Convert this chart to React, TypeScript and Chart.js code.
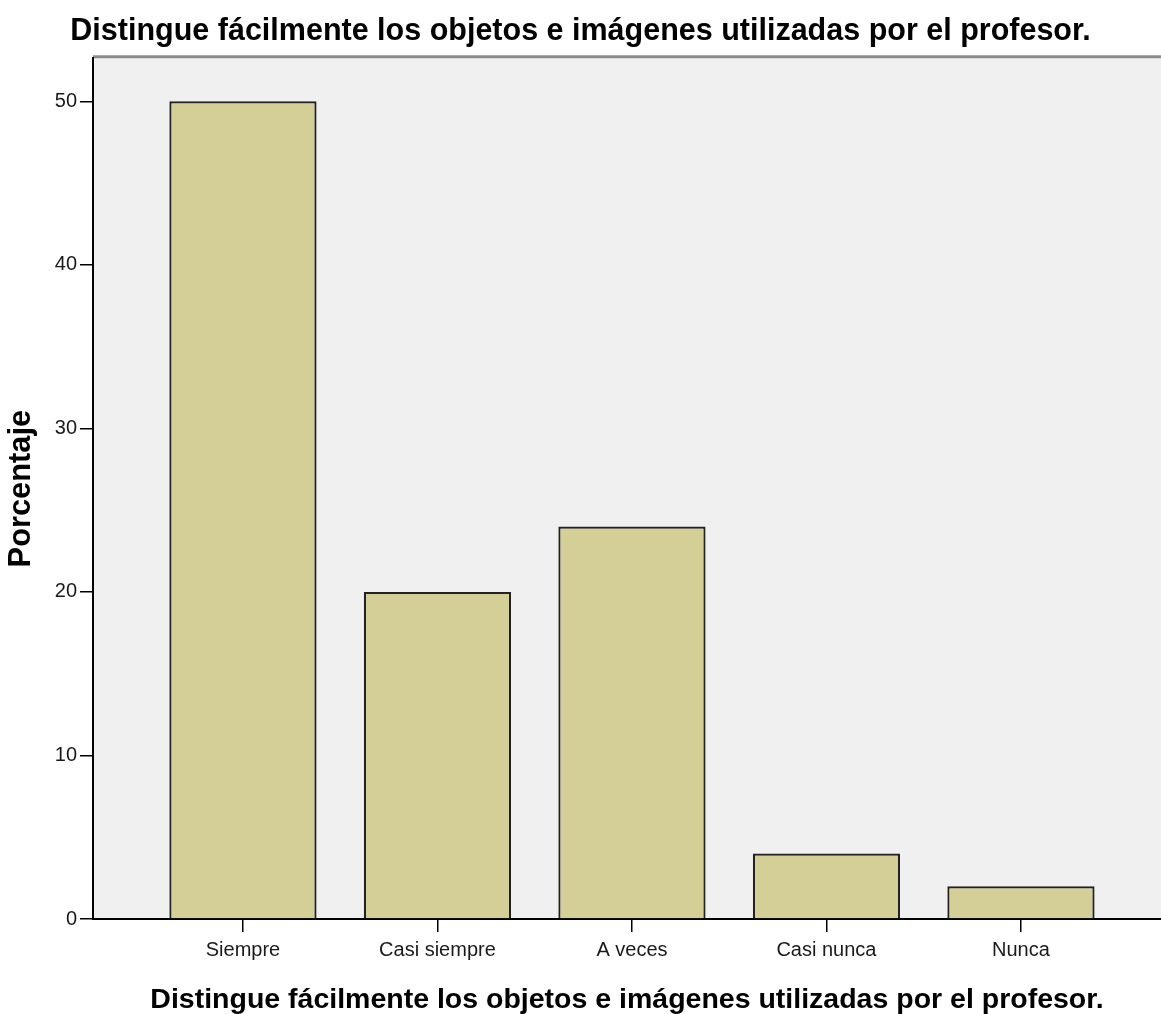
import React, { useEffect, useRef } from 'react';
import { Chart, registerables } from 'chart.js';

Chart.register(...registerables);

const categories = ['Siempre', 'Casi siempre', 'A veces', 'Casi nunca', 'Nunca'];
const percentages = [50, 20, 24, 4, 2];
const yTickValues = [0, 10, 20, 30, 40, 50];
const chartTitle = 'Distingue fácilmente los objetos e imágenes utilizadas por el profesor.';
const xAxisTitle = 'Distingue fácilmente los objetos e imágenes utilizadas por el profesor.';
const yAxisTitle = 'Porcentaje';

const FONT = "'Liberation Sans', Arial, sans-serif";

const plotBackground = {
  id: 'plotBackground',
  beforeDraw(chart: any) {
    const { ctx, chartArea } = chart;
    if (!chartArea) return;
    const { left, top, right, bottom } = chartArea;
    ctx.save();
    ctx.fillStyle = '#f0f0f0';
    ctx.fillRect(left, top, right - left, bottom - top);
    ctx.strokeStyle = '#8c8c8c';
    ctx.lineWidth = 3;
    ctx.beginPath();
    ctx.moveTo(left, top - 1.5);
    ctx.lineTo(right, top - 1.5);
    ctx.stroke();
    ctx.restore();
  },
};

export default function App() {
  const canvasRef = useRef<HTMLCanvasElement | null>(null);

  useEffect(() => {
    if (!canvasRef.current) return;
    const chart = new Chart(canvasRef.current, {
      type: 'bar',
      data: {
        datasets: [
          {
            label: yAxisTitle,
            data: percentages.map((v, i) => ({ x: i, y: v })),
            backgroundColor: '#d3cf97',
            borderColor: '#222222',
            borderWidth: 2.2,
            borderSkipped: 'bottom',
            categoryPercentage: 1,
            barPercentage: 0.757,
          },
        ],
      },
      options: {
        animation: false,
        responsive: false,
        devicePixelRatio: 1,
        layout: { padding: 0 },
        plugins: {
          legend: { display: false },
          tooltip: { enabled: false },
          title: {
            display: true,
            text: chartTitle,
            color: '#000',
            font: { family: FONT, size: 30.5, weight: 'bold', lineHeight: 1.2 },
            padding: { top: 13.5, bottom: 8.2 },
          },
        },
        scales: {
          x: {
            type: 'linear',
            offset: false,
            min: -0.771,
            max: 4.72,
            afterBuildTicks: (scale: any) => {
              scale.ticks = categories.map((_, i) => ({ value: i }));
            },
            afterFit: (scale: any) => {
              scale.height = 95;
            },
            grid: {
              display: true,
              offset: false,
              drawOnChartArea: false,
              drawTicks: true,
              tickLength: 13,
              color: '#000',
              lineWidth: 1.5,
            },
            border: { display: true, color: '#000', width: 2 },
            ticks: {
              callback: (value: any) => categories[value as number] ?? '',
              font: { family: FONT, size: 20 },
              color: '#1a1a1a',
              padding: 6,
              maxRotation: 0,
              autoSkip: false,
            },
            title: {
              display: true,
              text: xAxisTitle,
              color: '#000',
              font: { family: FONT, size: 28.5, weight: 'bold', lineHeight: 1.0 },
              padding: { top: 0, bottom: 0 },
            },
          },
          y: {
            type: 'linear',
            min: 0,
            max: 52.63,
            afterBuildTicks: (scale: any) => {
              scale.ticks = yTickValues.map((v) => ({ value: v }));
            },
            afterFit: (scale: any) => {
              scale.width = 93;
            },
            grid: {
              display: true,
              drawOnChartArea: false,
              drawTicks: true,
              tickLength: 13,
              color: '#000',
              lineWidth: 1.5,
            },
            border: { display: true, color: '#000', width: 2 },
            ticks: {
              font: { family: FONT, size: 20 },
              color: '#1a1a1a',
              padding: 3,
            },
            title: {
              display: true,
              text: yAxisTitle,
              color: '#000',
              font: { family: FONT, size: 30.8, weight: 'bold', lineHeight: 1.2 },
              padding: { top: 3, bottom: 0 },
            },
          },
        },
      },
      plugins: [plotBackground],
    });
    return () => chart.destroy();
  }, []);

  return (
    <div style={{ position: 'absolute', left: 0, top: 0, width: 1161, height: 1014, background: '#fff' }}>
      <canvas ref={canvasRef} width={1161} height={1014} />
    </div>
  );
}
